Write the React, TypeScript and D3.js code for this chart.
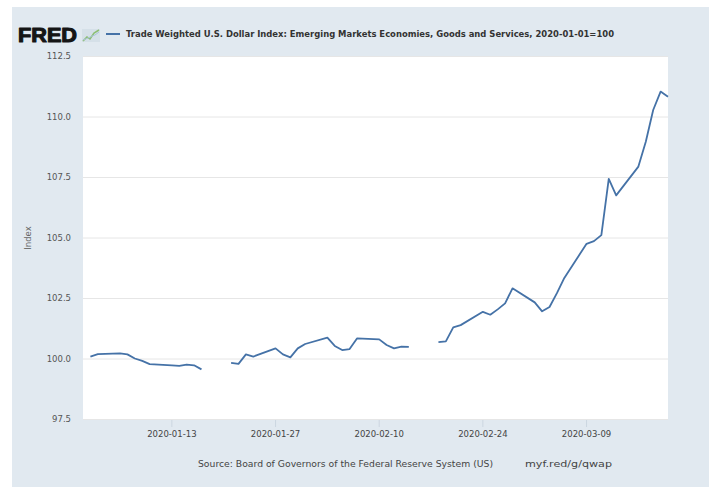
import React from 'react';
import * as d3 from 'd3';

// Trade Weighted U.S. Dollar Index: Emerging Markets (daily, business days)
const dates = [
  '2020-01-02', '2020-01-03', '2020-01-06', '2020-01-07', '2020-01-08', '2020-01-09', '2020-01-10',
  '2020-01-13', '2020-01-14', '2020-01-15', '2020-01-16', '2020-01-17', '2020-01-20', '2020-01-21',
  '2020-01-22', '2020-01-23', '2020-01-24', '2020-01-27', '2020-01-28', '2020-01-29', '2020-01-30',
  '2020-01-31', '2020-02-03', '2020-02-04', '2020-02-05', '2020-02-06', '2020-02-07', '2020-02-10',
  '2020-02-11', '2020-02-12', '2020-02-13', '2020-02-14', '2020-02-17', '2020-02-18', '2020-02-19',
  '2020-02-20', '2020-02-21', '2020-02-24', '2020-02-25', '2020-02-26', '2020-02-27', '2020-02-28',
  '2020-03-02', '2020-03-03', '2020-03-04', '2020-03-05', '2020-03-06', '2020-03-09', '2020-03-10',
  '2020-03-11', '2020-03-12', '2020-03-13', '2020-03-16', '2020-03-17', '2020-03-18', '2020-03-19',
  '2020-03-20',
];
const values: (number | null)[] = [
  100.10, 100.20, 100.23, 100.19, 100.02, 99.92, 99.79,
  99.74, 99.72, 99.77, 99.74, 99.57, null, 99.84,
  99.80, 100.19, 100.10, 100.44, 100.19, 100.07, 100.44,
  100.62, 100.88, 100.54, 100.37, 100.41, 100.85, 100.81,
  100.58, 100.44, 100.51, 100.50, null, 100.70, 100.73,
  101.31, 101.40, 101.95, 101.83, 102.05, 102.30, 102.92,
  102.34, 101.97, 102.15, 102.72, 103.35, 104.76, 104.87,
  105.12, 107.44, 106.76, 107.95, 108.98, 110.29, 111.05,
  110.84,
];
const yTicks = [97.5, 100, 102.5, 105, 107.5, 110, 112.5];
const xTicks = ['2020-01-13', '2020-01-27', '2020-02-10', '2020-02-24', '2020-03-09'];
const xDomain = ['2020-01-01', '2020-03-20'];

const W = 709, H = 487;
const plot = { left: 83, right: 668, top: 56, bottom: 420 };
const font = '"DejaVu Sans", sans-serif';
const lineColor = '#4572a7';

type Pt = { date: Date; value: number | null };

export default function App() {
  const parse = d3.utcParse('%Y-%m-%d');
  const data: Pt[] = dates.map((d, i) => ({ date: parse(d)!, value: values[i] }));

  const x = d3.scaleUtc()
    .domain(xDomain.map(d => parse(d)!) as [Date, Date])
    .range([plot.left, plot.right]);
  const y = d3.scaleLinear().domain([97.5, 112.5]).range([419.5, 56.5]);

  const line = d3.line<Pt>()
    .defined(d => d.value != null)
    .x(d => x(d.date))
    .y(d => y(d.value as number));

  return (
    <div style={{ position: 'fixed', left: 0, top: 0 }}>
      <svg width={W} height={H} style={{ display: 'block' }}>
        <rect x={0} y={0} width={W} height={H} fill="#ffffff" />
        <rect x={12} y={7} width={W - 12} height={H - 7} fill="#e1e9f0" />

        {/* header */}
        <text x={18} y={42} fontFamily={'"Liberation Sans", Arial, sans-serif'} fontWeight="bold" fontSize={20}
          fill="#151515" stroke="#151515" strokeWidth={1.1} strokeLinejoin="round"
          textLength={59} lengthAdjust="spacingAndGlyphs">FRED</text>
        <rect x={82} y={29} width={18} height={13} fill="#d5e0e8" />
        <polyline points="83,41 87,37 90,39 94,33 99,30" fill="none" stroke="#8cbf72" strokeWidth={1.5} />
        <polyline points="83,40 88,38 92,36 95,35 99,32" fill="none" stroke="#aac4d8" strokeWidth={1} />
        <line x1={106} x2={120} y1={34} y2={34} stroke={lineColor} strokeWidth={2} />
        <text x={126} y={37} fontFamily={font} fontWeight="bold" fontSize={8.5} fill="#333"
          textLength={488} lengthAdjust="spacingAndGlyphs">
          Trade Weighted U.S. Dollar Index: Emerging Markets Economies, Goods and Services, 2020-01-01=100
        </text>

        {/* plot area */}
        <rect x={plot.left} y={plot.top} width={plot.right - plot.left} height={plot.bottom - plot.top} fill="#ffffff" />
        {yTicks.map(t => (
          <g key={t}>
            <line x1={plot.left} x2={plot.right} y1={y(t)} y2={y(t)} stroke="#e6e6e6" strokeWidth={1} />
            <text x={71} y={y(t)} dy="0.35em" textAnchor="end" fontFamily={font} fontSize={8.5} fill="#555">
              {d3.format('.1f')(t)}
            </text>
          </g>
        ))}
        {xTicks.map(t => {
          const xv = x(parse(t)!);
          return (
            <g key={t}>
              <line x1={xv} x2={xv} y1={plot.bottom} y2={plot.bottom + 7} stroke="#ccd6e0" strokeWidth={1} />
              <text x={xv} y={437} textAnchor="middle" fontFamily={font} fontSize={8.5} fill="#444">{t}</text>
            </g>
          );
        })}
        <text transform={`translate(31,238) rotate(-90)`} textAnchor="middle" fontFamily={font} fontSize={8.5} fill="#666">
          Index
        </text>

        <path d={line(data) ?? ''} fill="none" stroke={lineColor} strokeWidth={1.8} strokeLinejoin="round" />

        {/* footer */}
        <text x={198} y={467} fontFamily={font} fontSize={8.5} fill="#444" textLength={295} lengthAdjust="spacingAndGlyphs">
          Source: Board of Governors of the Federal Reserve System (US)
        </text>
        <text x={525} y={467} fontFamily={font} fontSize={8.5} fill="#444" textLength={87} lengthAdjust="spacingAndGlyphs">
          myf.red/g/qwap
        </text>
      </svg>
    </div>
  );
}
